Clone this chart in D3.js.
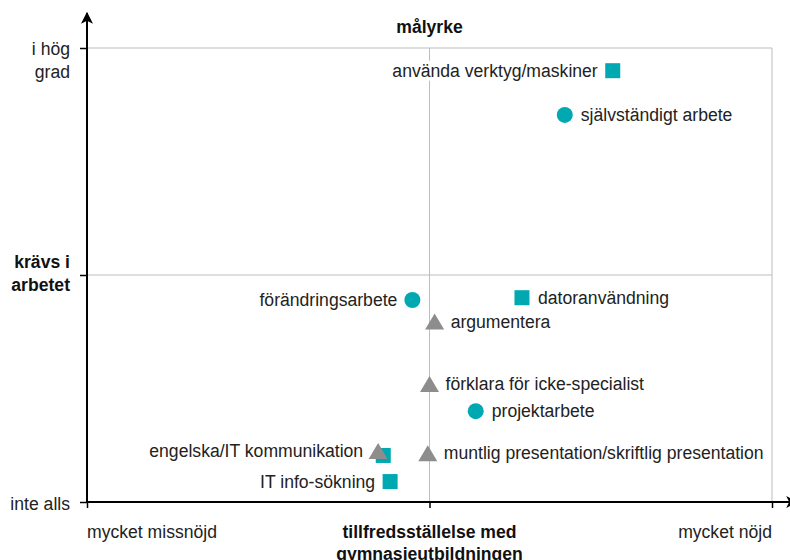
<!DOCTYPE html>
<html lang="sv">
<head>
<meta charset="UTF-8">
<title>Målyrke – tillfredsställelse</title>
<script src="https://cdnjs.cloudflare.com/ajax/libs/d3/7.8.5/d3.min.js"></script>
<style>
  body { margin: 0; background: #fff; }
  svg { display: block; font-family: 'Liberation Sans', Arial, sans-serif; }
  .lbl { font-size: 17.6px; fill: #222; }
  .bold { font-weight: bold; fill: #111; }
</style>
</head>
<body>
<svg id="chart" width="790" height="560"></svg>
<script>
// skala 1 (inte alls / mycket missnöjd) till 5 (i hög grad / mycket nöjd)
const names  = ['använda verktyg/maskiner', 'självständigt arbete', 'förändringsarbete', 'datoranvändning',
                'argumentera', 'förklara för icke-specialist', 'projektarbete', '',
                'engelska/IT kommunikation', 'muntlig presentation/skriftlig presentation', 'IT info-sökning'];
const shapes = ['square', 'circle', 'circle', 'square',
                'triangle', 'triangle', 'circle', 'square',
                'triangle', 'triangle', 'square'];
const xVals  = [4.07, 3.79, 2.90, 3.54, 3.03, 3.00, 3.27, 2.73, 2.70, 2.99, 2.77];
const yVals  = [4.80, 4.41, 2.78, 2.80, 2.59, 2.04, 1.80, 1.41, 1.45, 1.43, 1.18];
const sides  = ['left', 'right', 'left', 'right', 'right', 'right', 'right', 'right', 'left', 'right', 'left'];

const xTicks = [1, 3, 5];
const yTicks = [1, 3, 5];
const xTickLabels = [['mycket missnöjd'], ['tillfredsställelse med', 'gymnasieutbildningen'], ['mycket nöjd']];
const yTickLabels = [['inte alls'], ['krävs i', 'arbetet'], ['i hög', 'grad']];
const title = 'målyrke';

const teal = '#00a9b1', grey = '#8d8d8d', grid = '#bdbdbd';

const svg = d3.select('#chart');
const x = d3.scaleLinear().domain([1, 5]).range([87, 772]);
const y = d3.scaleLinear().domain([1, 5]).range([502, 48]);

// rutnät: ram uppe/höger och mittlinjer
const g = svg.append('g');
g.append('line').attr('x1', x(1)).attr('x2', x(5)).attr('y1', y(5)).attr('y2', y(5)).attr('stroke', grid);
g.append('line').attr('x1', x(5)).attr('x2', x(5)).attr('y1', y(5)).attr('y2', y(1)).attr('stroke', grid);
g.append('line').attr('x1', x(1)).attr('x2', x(5)).attr('y1', y(3)).attr('y2', y(3)).attr('stroke', grid);
g.append('line').attr('x1', x(3)).attr('x2', x(3)).attr('y1', y(5)).attr('y2', y(1)).attr('stroke', grid);

// axlar
const xAxis = svg.append('g').attr('transform', `translate(0,${y(1)})`)
  .call(d3.axisBottom(x).tickValues(xTicks).tickSize(6).tickSizeOuter(0).tickFormat(''));
const yAxis = svg.append('g').attr('transform', `translate(${x(1)},0)`)
  .call(d3.axisLeft(y).tickValues(yTicks).tickSize(7).tickSizeOuter(0).tickFormat(''));
[xAxis, yAxis].forEach(a => {
  a.select('.domain').remove();
  a.selectAll('.tick line').attr('stroke', '#000').attr('stroke-width', 1.5);
});

// axellinjer med pilar
svg.append('defs').append('marker')
  .attr('id', 'arrow').attr('viewBox', '0 0 10 10').attr('refX', 9).attr('refY', 5)
  .attr('markerWidth', 12).attr('markerHeight', 12).attr('markerUnits', 'userSpaceOnUse')
  .attr('orient', 'auto')
  .append('path').attr('d', 'M0,0 L10,5 L0,10 L2.5,5 Z').attr('fill', '#000');
svg.append('line').attr('x1', x(1)).attr('x2', x(1)).attr('y1', y(1) + 1).attr('y2', 13)
  .attr('stroke', '#000').attr('stroke-width', 2).attr('marker-end', 'url(#arrow)');
svg.append('line').attr('x1', x(1) - 1).attr('x2', 797).attr('y1', y(1)).attr('y2', y(1))
  .attr('stroke', '#000').attr('stroke-width', 2).attr('marker-end', 'url(#arrow)');

// axeltexter
yTicks.forEach((t, i) => {
  const lines = yTickLabels[i];
  const dy0 = i === 0 ? 8 : i === 1 ? -7 : 7;
  const txt = svg.append('text').attr('class', 'lbl' + (i === 1 ? ' bold' : ''))
    .attr('text-anchor', 'end').attr('x', 70).attr('y', y(t) + dy0);
  lines.forEach((l, j) => txt.append('tspan').attr('x', 70).attr('dy', j ? 23 : 0).text(l));
});
xTicks.forEach((t, i) => {
  const anchor = i === 0 ? 'start' : i === 2 ? 'end' : 'middle';
  const txt = svg.append('text').attr('class', 'lbl' + (i === 1 ? ' bold' : ''))
    .attr('text-anchor', anchor).attr('x', x(t)).attr('y', 538);
  xTickLabels[i].forEach((l, j) => txt.append('tspan').attr('x', x(t)).attr('dy', j ? 22 : 0).text(l));
});
svg.append('text').attr('class', 'lbl bold').attr('text-anchor', 'middle')
  .attr('x', x(3)).attr('y', 33).text(title);

// punkter
const data = names.map((n, i) => ({ name: n, shape: shapes[i], x: xVals[i], y: yVals[i], side: sides[i] }));
const order = { square: 0, circle: 1, triangle: 2 };
const pts = data.slice().sort((a, b) => order[a.shape] - order[b.shape]);

const layer = svg.append('g');
pts.forEach(d => {
  const cx = x(d.x), cy = y(d.y);
  if (d.shape === 'square') {
    layer.append('rect').attr('x', cx - 7.5).attr('y', cy - 7.5).attr('width', 15).attr('height', 15).attr('fill', teal);
  } else if (d.shape === 'circle') {
    layer.append('circle').attr('cx', cx).attr('cy', cy).attr('r', 8).attr('fill', teal);
  } else {
    layer.append('path').attr('d', `M${cx},${cy - 8} L${cx + 9.5},${cy + 8} L${cx - 9.5},${cy + 8} Z`).attr('fill', grey);
  }
});

// etiketter med vit bakgrund
const labels = svg.append('g');
data.filter(d => d.name).forEach(d => {
  const cx = x(d.x), cy = y(d.y);
  const left = d.side === 'left';
  const grp = labels.append('g');
  const t = grp.append('text').attr('class', 'lbl')
    .attr('x', left ? cx - 15 : cx + 16).attr('y', cy + 6)
    .attr('text-anchor', left ? 'end' : 'start').text(d.name);
  const b = t.node().getBBox();
  grp.insert('rect', 'text').attr('x', b.x - 2).attr('y', b.y).attr('width', b.width + 4).attr('height', b.height).attr('fill', '#fff');
});
</script>
</body>
</html>
